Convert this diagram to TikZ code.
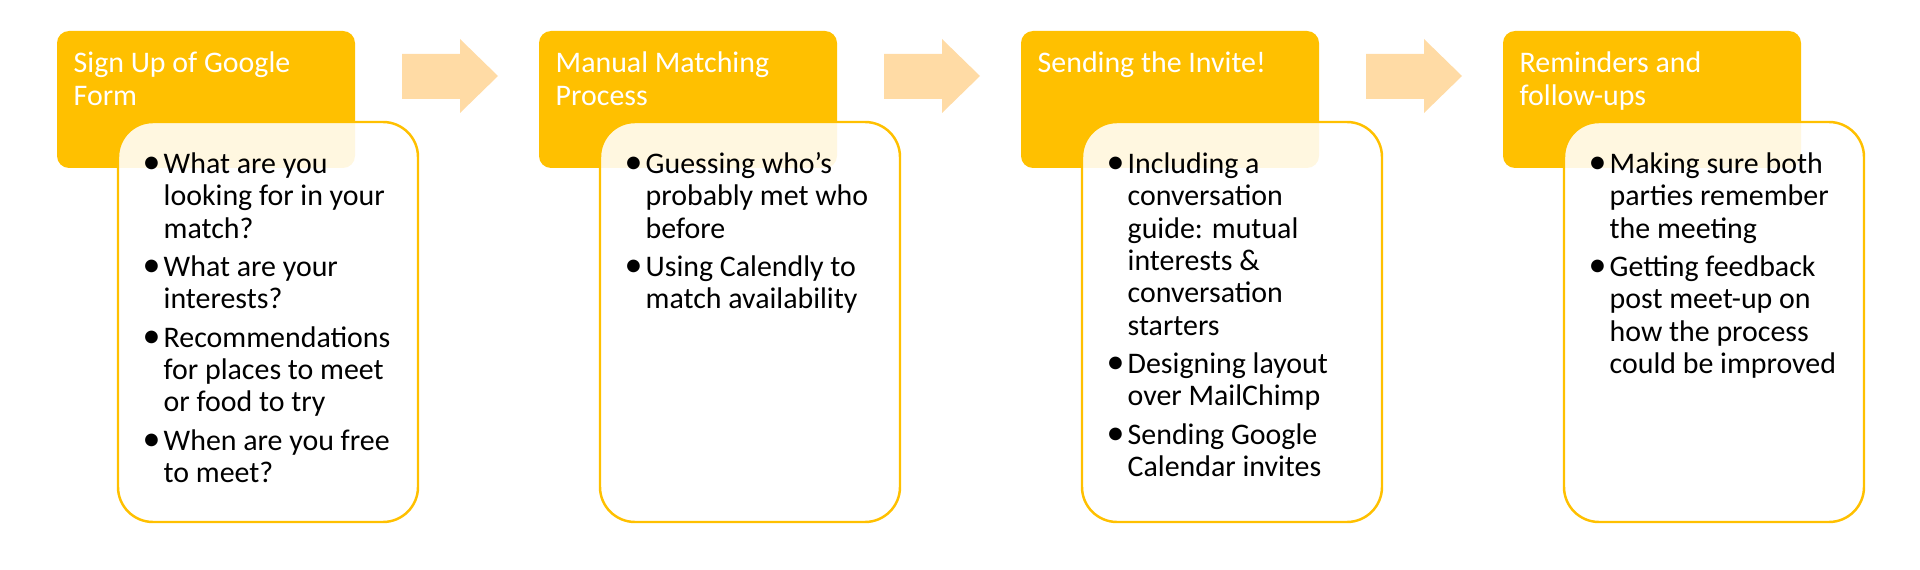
\documentclass[tikz,border=0pt]{standalone}
\usepackage{fontspec}
\setmainfont{Carlito}
\definecolor{gold}{HTML}{FFC000}
\definecolor{peach}{HTML}{FFDBA5}
\newcommand{\bul}{\llap{\makebox[0.16cm][l]{\kern-0.05cm\scalebox{1.2}{•}}}}

\begin{document}
\begin{tikzpicture}[x=0.01cm,y=-0.01cm,
 header/.style ={fill=gold,draw=none,rounded corners=0.12cm},
 card/.style ={draw=gold,line width=0.7pt,fill=white,fill opacity=0.88,rounded corners=0.35cm},
 flow/.style ={fill=peach,draw=none},
 title/.style ={anchor=north west,inner sep=0,text=white,font=\fontsize{8.5}{9.4}\selectfont},
 items/.style ={anchor=north west,inner sep=0,text=black,font=\fontsize{8.5}{9.2}\selectfont}
 ]
\useasboundingbox (0,0) rectangle (1920,570);
%draw step 1
\draw[header] (57,31) rectangle (355,168);
\draw[card] (118,122) rectangle (418,522);
\node[title] (signup) at (73,48.6) {\begin{tabular}{@{}l@{}}Sign Up of Google\\Form\end{tabular}};
\node[items] (signuplist) at (163,150) {\begin{tabular}{@{}l@{}}
\bul What are you\\ looking for in your\\ match?\\[0.06cm]
\bul What are your\\ interests?\\[0.06cm]
\bul Recommendations\\ for places to meet\\ or food to try\\[0.06cm]
\bul When are you free\\ to meet?
\end{tabular}};
%draw arrow 1
\draw[flow] (402,54) -- (460,54) -- (460,39) -- (498,76) -- (460,113) -- (460,99) -- (402,99) -- cycle;
%draw step 2
\draw[header] (539,31) rectangle (837,168);
\draw[card] (600,122) rectangle (900,522);
\node[title] (matching) at (555,48.6) {\begin{tabular}{@{}l@{}}Manual Matching\\Process\end{tabular}};
\node[items] (matchinglist) at (645,150) {\begin{tabular}{@{}l@{}}
\bul Guessing who’s\\ probably met who\\ before\\[0.06cm]
\bul Using Calendly to\\ match availability
\end{tabular}};
%draw arrow 2
\draw[flow] (884,54) -- (942,54) -- (942,39) -- (980,76) -- (942,113) -- (942,99) -- (884,99) -- cycle;
%draw step 3
\draw[header] (1021,31) rectangle (1319,168);
\draw[card] (1082,122) rectangle (1382,522);
\node[title] (invite) at (1037,48.6) {\begin{tabular}{@{}l@{}}Sending the Invite!\end{tabular}};
\node[items] (invitelist) at (1127,150) {\begin{tabular}{@{}l@{}}
\bul Including a\\ conversation\\ guide: mutual\\ interests \&\\ conversation\\ starters\\[0.06cm]
\bul Designing layout\\ over MailChimp\\[0.06cm]
\bul Sending Google\\ Calendar invites
\end{tabular}};
%draw arrow 3
\draw[flow] (1366,54) -- (1424,54) -- (1424,39) -- (1462,76) -- (1424,113) -- (1424,99) -- (1366,99) -- cycle;
%draw step 4
\draw[header] (1503,31) rectangle (1801,168);
\draw[card] (1564,122) rectangle (1864,522);
\node[title] (reminders) at (1519,48.6) {\begin{tabular}{@{}l@{}}Reminders and\\follow-ups\end{tabular}};
\node[items] (reminderslist) at (1609,150) {\begin{tabular}{@{}l@{}}
\bul Making sure both\\ parties remember\\ the meeting\\[0.06cm]
\bul Getting feedback\\ post meet-up on\\ how the process\\ could be improved
\end{tabular}};
\end{tikzpicture}
\end{document}
